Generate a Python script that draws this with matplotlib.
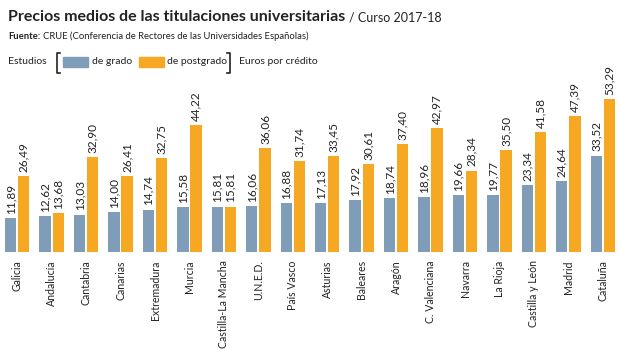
import numpy as np
import matplotlib.pyplot as plt
from matplotlib.patches import Rectangle
from matplotlib.lines import Line2D

regiones = ['Galicia', 'Andalucía', 'Cantabria', 'Canarias', 'Extremadura', 'Murcia',
            'Castilla-La Mancha', 'U.N.E.D.', 'País Vasco', 'Asturias', 'Baleares',
            'Aragón', 'C. Valenciana', 'Navarra', 'La Rioja', 'Castilla y León',
            'Madrid', 'Cataluña']
grado = [11.89, 12.62, 13.03, 14.00, 14.74, 15.58, 15.81, 16.06, 16.88, 17.13,
         17.92, 18.74, 18.96, 19.66, 19.77, 23.34, 24.64, 33.52]
postgrado = [26.49, 13.68, 32.90, 26.41, 32.75, 44.22, 15.81, 36.06, 31.74, 33.45,
             30.61, 37.40, 42.97, 28.34, 35.50, 41.58, 47.39, 53.29]

GRIS = '#7f9cb8'
NARANJA = '#f7a823'
TXT = '#222222'

plt.rcParams['font.family'] = ['Lato', 'DejaVu Sans']

fig = plt.figure(figsize=(6.2, 3.49), dpi=100)
ax = fig.add_axes([0, 97 / 349, 1, 161 / 349])

x = np.arange(len(regiones))
w = 0.33
b1 = ax.bar(x - 0.19, grado, w, color=GRIS)
b2 = ax.bar(x + 0.19, postgrado, w, color=NARANJA)

for bars, vals in ((b1, grado), (b2, postgrado)):
    for r, v in zip(bars, vals):
        ax.annotate(f'{v:.2f}'.replace('.', ','), (r.get_x() + r.get_width() / 2, v),
                    xytext=(0, 3), textcoords='offset points', rotation=90,
                    ha='center', va='bottom', fontsize=8.5, color=TXT)

ax.set_xlim(-0.5, len(regiones) - 0.5)
ax.set_ylim(0, 56)
ax.set_xticks(x)
ax.set_xticklabels(regiones, rotation=90, fontsize=7.6, color=TXT)
ax.tick_params(axis='x', length=0, pad=6)
ax.set_yticks([])
for s in ax.spines.values():
    s.set_visible(False)

# cabecera
t = fig.text(8 / 620, 1 - 21 / 349, 'Precios medios de las titulaciones universitarias',
             fontsize=11.5, fontweight='bold', color=TXT)
fig.canvas.draw()
bb = t.get_window_extent()
fig.text(bb.x1 / 620 + 0.006, 1 - 21 / 349, '/ Curso 2017-18', fontsize=9, color=TXT)

f = fig.text(8 / 620, 1 - 39 / 349, 'Fuente:', fontsize=6.8, fontweight='bold', color=TXT)
fig.canvas.draw()
bb = f.get_window_extent()
fig.text(bb.x1 / 620 + 0.004, 1 - 39 / 349,
         'CRUE (Conferencia de Rectores de las Universidades Españolas)',
         fontsize=6.8, color=TXT)

yl = 1 - 62 / 349
fig.text(8 / 620, yl, 'Estudios', fontsize=7.5, va='center', color=TXT)
fig.add_artist(Line2D([60 / 620, 57 / 620, 57 / 620, 60 / 620],
                      [1 - 53 / 349, 1 - 53 / 349, 1 - 73 / 349, 1 - 73 / 349],
                      color=TXT, lw=1.2))
fig.add_artist(Rectangle((63 / 620, 1 - 67 / 349), 25 / 620, 10 / 349, color=GRIS))
fig.text(92 / 620, yl, 'de grado', fontsize=7.5, va='center', color=TXT)
fig.add_artist(Rectangle((139 / 620, 1 - 67 / 349), 25 / 620, 10 / 349, color=NARANJA))
fig.text(167 / 620, yl, 'de postgrado', fontsize=7.5, va='center', color=TXT)
fig.add_artist(Line2D([227 / 620, 230 / 620, 230 / 620, 227 / 620],
                      [1 - 53 / 349, 1 - 53 / 349, 1 - 73 / 349, 1 - 73 / 349],
                      color=TXT, lw=1.2))
fig.text(239 / 620, yl, 'Euros por crédito', fontsize=7.5, va='center', color=TXT)

fig.savefig('out.png', dpi=100)
